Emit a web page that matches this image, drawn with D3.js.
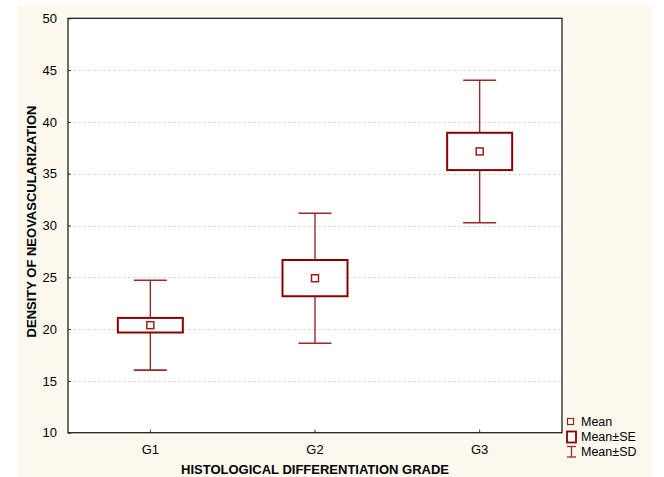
<!DOCTYPE html>
<html><head><meta charset="utf-8">
<script src="https://cdn.jsdelivr.net/npm/d3@7"></script>
<style>body{margin:0;background:#fff}svg{display:block}text{font-family:"Liberation Sans",Arial,sans-serif}</style>
</head><body>
<svg id="c" width="664" height="477"></svg>
<script>
const categories = ["G1","G2","G3"];
const means   = [20.38, 24.91, 37.15];
const seLow   = [19.67, 23.17, 35.35];
const seHigh  = [21.08, 26.67, 38.95];
const sdLow   = [16.04, 18.64, 30.26];
const sdHigh  = [24.72, 31.18, 44.02];
const yTicks  = [10,15,20,25,30,35,40,45,50];
const legendLabels = ["Mean","Mean±SE","Mean±SD"];

const svg = d3.select("#c");
const red = "#8b0000";
const L=68, R=562, T=18.3, B=432.7;

svg.append("rect").attr("x",18).attr("y",5).attr("width",634).attr("height",472).attr("fill","#fdf9ef");
svg.append("rect").attr("x",L).attr("y",T).attr("width",R-L).attr("height",B-T).attr("fill","#fff");

const x = d3.scaleBand().domain(categories).range([L,R]);
const y = d3.scaleLinear().domain([10,50]).range([B,T]);

// grid
svg.append("g").selectAll("line").data(yTicks.filter(t=>t>10&&t<50)).join("line")
  .attr("x1",L).attr("x2",R).attr("y1",d=>Math.round(y(d))+0.5).attr("y2",d=>Math.round(y(d))+0.5)
  .attr("stroke","#dcdcdc").attr("stroke-dasharray","3,2").attr("stroke-width",1);

// axes
const ya = svg.append("g").attr("transform",`translate(${L},0)`)
  .call(d3.axisLeft(y).tickValues(yTicks).tickSize(-3).tickPadding(11).tickFormat(d3.format("d")));
ya.select(".domain").remove();
ya.selectAll("line").attr("stroke","#333");
ya.selectAll("text").attr("font-size",13).attr("fill","#000");

const xa = svg.append("g").attr("transform",`translate(0,${B})`)
  .call(d3.axisBottom(x).tickSize(-3).tickPadding(12));
xa.select(".domain").remove();
xa.selectAll("line").attr("stroke","#333");
xa.selectAll("text").attr("font-size",13).attr("fill","#000");

// frame
svg.append("rect").attr("x",L).attr("y",T).attr("width",R-L).attr("height",B-T)
  .attr("fill","none").attr("stroke","#222").attr("stroke-width",1.3);

// boxes
const g = svg.append("g").selectAll("g").data(categories).join("g");
const cx = d=>x(d)+x.bandwidth()/2;
g.append("line").attr("x1",cx).attr("x2",cx)
  .attr("y1",(d,i)=>y(sdLow[i])).attr("y2",(d,i)=>y(sdHigh[i]))
  .attr("stroke","#9a2a2a").attr("stroke-width",1.4);
[sdLow, sdHigh].forEach(arr=>{
  g.append("line").attr("x1",d=>cx(d)-16.5).attr("x2",d=>cx(d)+16.5)
   .attr("y1",(d,i)=>y(arr[i])).attr("y2",(d,i)=>y(arr[i]))
   .attr("stroke","#9a2a2a").attr("stroke-width",1.6);
});
g.append("rect").attr("x",d=>cx(d)-32.5).attr("width",65)
  .attr("y",(d,i)=>y(seHigh[i])).attr("height",(d,i)=>y(seLow[i])-y(seHigh[i]))
  .attr("fill","#fff").attr("stroke",red).attr("stroke-width",2);
g.append("rect").attr("x",d=>cx(d)-3.5).attr("width",7)
  .attr("y",(d,i)=>y(means[i])-3.5).attr("height",7)
  .attr("fill","#fff").attr("stroke","#9a2020").attr("stroke-width",1.5);

// titles
svg.append("text").attr("x",(L+R)/2).attr("y",474).attr("text-anchor","middle")
  .attr("font-size",13).attr("font-weight","bold").text("HISTOLOGICAL DIFFERENTIATION GRADE");
svg.append("text").attr("transform",`translate(36,${(T+B)/2-4}) rotate(-90)`).attr("text-anchor","middle")
  .attr("font-size",13).attr("font-weight","bold").text("DENSITY OF NEOVASCULARIZATION");

// legend
const lg = svg.append("g");
lg.append("rect").attr("x",567.5).attr("y",418.5).attr("width",6).attr("height",6)
  .attr("fill","#fff").attr("stroke","#9a2020").attr("stroke-width",1.2);
lg.append("rect").attr("x",567).attr("y",431.5).attr("width",9).attr("height",11)
  .attr("fill","#fff").attr("stroke",red).attr("stroke-width",1.8);
lg.append("line").attr("x1",567).attr("x2",576).attr("y1",446.5).attr("y2",446.5).attr("stroke","#9a2a2a").attr("stroke-width",1.3);
lg.append("line").attr("x1",567).attr("x2",576).attr("y1",457).attr("y2",457).attr("stroke","#9a2a2a").attr("stroke-width",1.3);
lg.append("line").attr("x1",571.5).attr("x2",571.5).attr("y1",446.5).attr("y2",457).attr("stroke","#9a2a2a").attr("stroke-width",1.3);
lg.selectAll("text.l").data(legendLabels).join("text").attr("class","l")
  .attr("x",581).attr("y",(d,i)=>426+i*15).attr("font-size",12.5).attr("fill","#000").text(d=>d);
</script>
</body></html>
